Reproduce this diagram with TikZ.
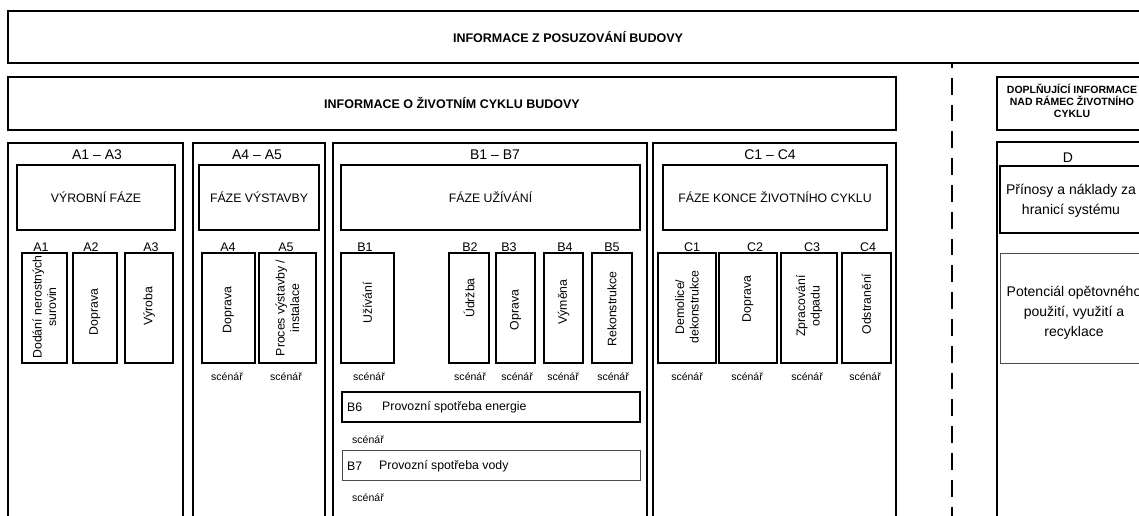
\documentclass[tikz,border=0pt]{standalone}
\usepackage{fontspec}
\setmainfont{Liberation Sans}
\newcommand\fsz[2]{\fontsize{#1}{#2}\selectfont}
% style, name, x1, y1, x2, y2, text
\newcommand\boxat[7]{\node[#1, minimum width={#5-#3}, minimum height={#6-#4}] (#2) at (#3,#4) {#7};}
\tikzset{
  frame/.style={draw, line width=1.8pt, inner sep=0pt, outer sep=0pt, anchor=north west, align=center},
  phasebox/.style={draw, line width=1.6pt, inner sep=0pt, outer sep=0pt, anchor=north west, align=center, font=\fsz{12.3}{15}},
  subbox/.style={draw, line width=1.1pt, inner sep=0pt, outer sep=0pt, anchor=north west},
  thinbox/.style={draw=black!70, line width=0.9pt, inner sep=0pt, outer sep=0pt, anchor=north west},
  headtxt/.style={font=\bfseries\fsz{12.5}{15}, inner sep=0pt},
  smallhead/.style={font=\bfseries\fsz{10.5}{12}, align=center, inner sep=0pt},
  rangetxt/.style={font=\fsz{14}{17}, inner sep=0pt},
  codetxt/.style={font=\fsz{12.5}{15}, inner sep=0pt},
  vtxt/.style={rotate=90, font=\fsz{12.3}{14.5}, align=center, inner sep=0pt},
  scentxt/.style={font=\fsz{10.5}{12}, inner sep=0pt},
  linetxt/.style={font=\fsz{12.3}{15}, inner sep=0pt, anchor=west},
  dtxt/.style={font=\fsz{14}{20}, align=center, inner sep=0pt},
}
\begin{document}
\begin{tikzpicture}[x=1pt,y=-1pt]
\useasboundingbox (0,0) rectangle (1139,516);
\clip (0,0) rectangle (1139,516);
\fill[white] (0,0) rectangle (1139,516);

% top frames
\boxat{frame}{top}{8}{11}{1150}{63}{}
\node[headtxt] (toptxt) at (568,37) {INFORMACE Z POSUZOVÁNÍ BUDOVY};
\boxat{frame}{life}{8}{77}{896}{130}{}
\node[headtxt] (lifetxt) at (452,103) {INFORMACE O ŽIVOTNÍM CYKLU BUDOVY};
\boxat{frame}{dopl}{997}{77}{1150}{130}{}
\node[smallhead] (dopltxt) at (1072,101) {DOPLŇUJÍCÍ INFORMACE\\NAD RÁMEC ŽIVOTNÍHO\\CYKLU};

% dashed separator
\coordinate (dtop) at (952,63);
\coordinate (dbot) at (952,530);
\draw[line width=1.8pt, dash pattern=on 16.8pt off 10pt, dash phase=12pt] (dtop) -- (dbot);

% module frames
\boxat{frame}{A13}{8}{143}{183}{530}{}
\boxat{frame}{A45}{193}{143}{325}{530}{}
\boxat{frame}{B17}{333}{143}{647}{530}{}
\boxat{frame}{C14}{653}{143}{896}{530}{}
\boxat{frame}{Dout}{997}{142}{1150}{530}{}

\node[rangetxt] (rA13) at (97,155) {A1 -- A3};
\node[rangetxt] (rA45) at (257,155) {A4 -- A5};
\node[rangetxt] (rB17) at (495,155) {B1 -- B7};
\node[rangetxt] (rC14) at (770,155) {C1 -- C4};
\node[rangetxt] (rD) at (1068,158) {D};

% phase boxes
\boxat{phasebox}{pA13}{17}{165}{175}{230}{VÝROBNÍ FÁZE}
\boxat{phasebox}{pA45}{199}{165}{319}{230}{FÁZE VÝSTAVBY}
\boxat{phasebox}{pB17}{341}{165}{640}{230}{FÁZE UŽÍVÁNÍ}
\boxat{phasebox}{pC14}{663}{165}{887}{230}{FÁZE KONCE ŽIVOTNÍHO CYKLU}

% D boxes
\boxat{phasebox}{pD}{1000}{166}{1145}{233}{}
\node[dtxt] (pDtxt) at (1071,201) {Přínosy a náklady za\\hranicí systému};
\boxat{thinbox}{potD}{1000}{253}{1145}{363}{}
\node[dtxt] (potDtxt) at (1074,313) {Potenciál opětovného\\použití, využití a\\recyklace};

% module codes
\node[codetxt] (lA1) at (41,247) {A1};
\node[codetxt] (lA2) at (91,247) {A2};
\node[codetxt] (lA3) at (151,247) {A3};
\node[codetxt] (lA4) at (228,247) {A4};
\node[codetxt] (lA5) at (286,247) {A5};
\node[codetxt] (lB1) at (365,247) {B1};
\node[codetxt] (lB2) at (470,247) {B2};
\node[codetxt] (lB3) at (509,247) {B3};
\node[codetxt] (lB4) at (565,247) {B4};
\node[codetxt] (lB5) at (612,247) {B5};
\node[codetxt] (lC1) at (692,247) {C1};
\node[codetxt] (lC2) at (755,247) {C2};
\node[codetxt] (lC3) at (812,247) {C3};
\node[codetxt] (lC4) at (868,247) {C4};

% module boxes
\boxat{subbox}{bA1}{22}{253}{67}{363}{}
\boxat{subbox}{bA2}{73}{253}{117}{363}{}
\boxat{subbox}{bA3}{125}{253}{173}{363}{}
\boxat{subbox}{bA4}{202}{253}{255}{363}{}
\boxat{subbox}{bA5}{259}{253}{316}{363}{}
\boxat{subbox}{bB1}{341}{253}{394}{363}{}
\boxat{subbox}{bB2}{449}{253}{489}{363}{}
\boxat{subbox}{bB3}{496}{253}{535}{363}{}
\boxat{subbox}{bB4}{544}{253}{583}{363}{}
\boxat{subbox}{bB5}{592}{253}{632}{363}{}
\boxat{subbox}{bC1}{658}{253}{716}{363}{}
\boxat{subbox}{bC2}{719}{253}{777}{363}{}
\boxat{subbox}{bC3}{781}{253}{837}{363}{}
\boxat{subbox}{bC4}{842}{253}{891}{363}{}

\node[vtxt] (tA1) at (44.5,307) {Dodání nerostných\\surovin};
\node[vtxt] (tA2) at (95,312) {Doprava};
\node[vtxt] (tA3) at (149,306) {Výroba};
\node[vtxt] (tA4) at (228.5,310) {Doprava};
\node[vtxt] (tA5) at (287.5,308) {Proces výstavby /\\instalace};
\node[vtxt] (tB1) at (367.5,303) {Užívání};
\node[vtxt] (tB2) at (469,298) {Údržba};
\node[vtxt] (tB3) at (515.5,310) {Oprava};
\node[vtxt] (tB4) at (563.5,302) {Výměna};
\node[vtxt] (tB5) at (612,309) {Rekonstrukce};
\node[vtxt] (tC1) at (687,307) {Demolice/\\dekonstrukce};
\node[vtxt] (tC2) at (748,299) {Doprava};
\node[vtxt] (tC3) at (809,306) {Zpracování\\odpadu};
\node[vtxt] (tC4) at (866.5,304) {Odstranění};

% scenario labels
\node[scentxt] (sA4) at (227,377) {scénář};
\node[scentxt] (sA5) at (286,377) {scénář};
\node[scentxt] (sB1) at (369,377) {scénář};
\node[scentxt] (sB2) at (470,377) {scénář};
\node[scentxt] (sB3) at (517,377) {scénář};
\node[scentxt] (sB4) at (563,377) {scénář};
\node[scentxt] (sB5) at (613,377) {scénář};
\node[scentxt] (sC1) at (687,377) {scénář};
\node[scentxt] (sC2) at (747,377) {scénář};
\node[scentxt] (sC3) at (807,377) {scénář};
\node[scentxt] (sC4) at (865,377) {scénář};

% B6, B7
\boxat{subbox}{bB6}{342}{392}{640}{422}{}
\node[linetxt] (cB6) at (347,407) {B6};
\node[linetxt] (tB6) at (382,407) {Provozní spotřeba energie};
\node[scentxt] (sB6) at (368,440) {scénář};
\boxat{thinbox}{bB7}{342}{450}{640}{480}{}
\node[linetxt] (cB7) at (347,466) {B7};
\node[linetxt] (tB7) at (379,466) {Provozní spotřeba vody};
\node[scentxt] (sB7) at (368,498) {scénář};
\end{tikzpicture}
\end{document}
